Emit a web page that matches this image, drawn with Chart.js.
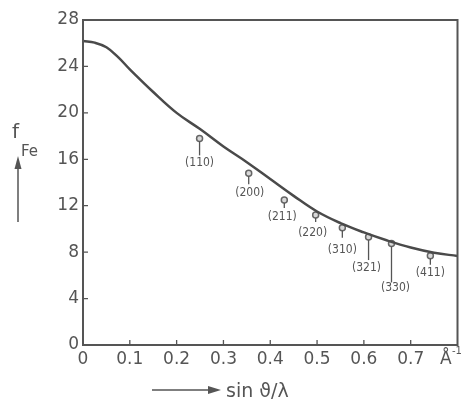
<!DOCTYPE html>
<html>
<head>
<meta charset="utf-8">
<script src="https://cdn.jsdelivr.net/npm/chart.js@4"></script>
<style>
  html, body { margin: 0; padding: 0; background: #fff; }
  #wrap { width: 463px; height: 405px; }
</style>
</head>
<body>
<div id="wrap"><canvas id="fFeChart" width="463" height="405"></canvas></div>
<script>
// curve f_Fe(sin theta / lambda)
var sinThetaOverLambda = [0, 0.025, 0.05, 0.075, 0.1, 0.15, 0.2, 0.25, 0.3, 0.35, 0.4, 0.45, 0.5, 0.55, 0.6, 0.65, 0.7, 0.75, 0.8];
var fFe = [26.2, 26.05, 25.65, 24.8, 23.75, 21.8, 20.0, 18.6, 17.1, 15.75, 14.3, 12.85, 11.5, 10.5, 9.7, 9.0, 8.4, 7.95, 7.67];

// measured reflections
var reflections = ["(110)", "(200)", "(211)", "(220)", "(310)", "(321)", "(330)", "(411)"];
var reflX = [0.249, 0.354, 0.43, 0.497, 0.554, 0.61, 0.659, 0.742];
var reflF = [17.8, 14.8, 12.5, 11.2, 10.1, 9.3, 8.75, 7.7];

var yTicks = [0, 4, 8, 12, 16, 20, 24, 28];
var xTicks = [0, 0.1, 0.2, 0.3, 0.4, 0.5, 0.6, 0.7];

// label placement (px, relative to the marker)
var stemLen = [14, 8, 5, 4, 7, 20, 36, 6];
var labelDx = [0, 1, -2, -3, 0, -2, 4, 0];
var labelDy = [24, 20, 17, 18, 22, 31, 44, 17];

var ink = "#555";

var extras = {
  id: "extras",
  afterDatasetsDraw: function(chart) {
    var ctx = chart.ctx, a = chart.chartArea;
    var xs = chart.scales.x, ys = chart.scales.y;
    ctx.save();
    // frame
    ctx.strokeStyle = ink;
    ctx.lineWidth = 2;
    ctx.strokeRect(a.left, a.top, a.right - a.left, a.bottom - a.top);
    // inner ticks
    ctx.lineWidth = 1.3;
    ctx.beginPath();
    yTicks.forEach(function(v) {
      if (v <= 0 || v >= 28) return;
      var y = ys.getPixelForValue(v);
      ctx.moveTo(a.left, y); ctx.lineTo(a.left + 5, y);
    });
    xTicks.forEach(function(v) {
      if (v <= 0) return;
      var x = xs.getPixelForValue(v);
      ctx.moveTo(x, a.bottom); ctx.lineTo(x, a.bottom - 5);
    });
    ctx.stroke();

    // stems and hkl labels
    ctx.fillStyle = ink;
    ctx.font = "12px 'DejaVu Sans Condensed'";
    ctx.textAlign = "center";
    ctx.textBaseline = "middle";
    reflections.forEach(function(lab, i) {
      var px = xs.getPixelForValue(reflX[i]);
      var py = ys.getPixelForValue(reflF[i]);
      ctx.beginPath();
      ctx.moveTo(px, py + 3);
      ctx.lineTo(px, py + 3 + stemLen[i]);
      ctx.stroke();
      ctx.fillText(lab, px + labelDx[i], py + labelDy[i]);
    });

    // unit at the end of the x axis
    ctx.textAlign = "left";
    ctx.textBaseline = "alphabetic";
    ctx.font = "17px 'DejaVu Sans'";
    ctx.fillText("Å", 440, 364);
    ctx.font = "10px 'DejaVu Sans'";
    ctx.fillText("-1", 452, 354);

    // x axis title with arrow
    ctx.lineWidth = 1.5;
    ctx.beginPath();
    ctx.moveTo(152, 390); ctx.lineTo(210, 390);
    ctx.stroke();
    ctx.beginPath();
    ctx.moveTo(221, 390); ctx.lineTo(208, 386); ctx.lineTo(208, 394);
    ctx.closePath(); ctx.fill();
    ctx.font = "19px 'DejaVu Sans'";
    ctx.fillText("sin ϑ/λ", 226, 397);

    // y axis title with arrow
    ctx.font = "20px 'DejaVu Sans'";
    ctx.fillText("f", 12, 138);
    ctx.font = "15px 'DejaVu Sans'";
    ctx.fillText("Fe", 21, 156);
    ctx.beginPath();
    ctx.moveTo(18, 222); ctx.lineTo(18, 166);
    ctx.stroke();
    ctx.beginPath();
    ctx.moveTo(18, 156); ctx.lineTo(14.5, 169); ctx.lineTo(21.5, 169);
    ctx.closePath(); ctx.fill();
    ctx.restore();
  }
};

var curve = sinThetaOverLambda.map(function(x, i) { return { x: x, y: fFe[i] }; });
var points = reflX.map(function(x, i) { return { x: x, y: reflF[i] }; });

new Chart(document.getElementById("fFeChart").getContext("2d"), {
  type: "scatter",
  data: {
    datasets: [
      {
        label: "f_Fe",
        data: curve,
        showLine: true,
        borderColor: "#4a4a4a",
        borderWidth: 2.5,
        pointRadius: 0,
        tension: 0.4
      },
      {
        label: "reflections",
        data: points,
        showLine: false,
        pointRadius: 3,
        pointBorderWidth: 1.5,
        pointBorderColor: "#666",
        pointBackgroundColor: "#d8d8d8"
      }
    ]
  },
  options: {
    responsive: false,
    animation: false,
    layout: { padding: { left: 0, top: 20, right: 3, bottom: 0 } },
    plugins: { legend: { display: false }, tooltip: { enabled: false } },
    scales: {
      x: {
        type: "linear",
        min: 0,
        max: 0.8,
        afterFit: function(s) { s.height = 60; },
        afterBuildTicks: function(s) { s.ticks = xTicks.map(function(v) { return { value: v }; }); },
        grid: { display: false, drawTicks: false },
        border: { display: false },
        ticks: {
          padding: 4,
          color: ink,
          font: { family: "DejaVu Sans", size: 17 },
          maxRotation: 0,
          callback: function(v) { return v === 0 ? "0" : v.toFixed(1); }
        }
      },
      y: {
        min: 0,
        max: 28,
        afterFit: function(s) { s.width = 83; },
        afterBuildTicks: function(s) { s.ticks = yTicks.map(function(v) { return { value: v }; }); },
        grid: { display: false, drawTicks: false },
        border: { display: false },
        ticks: {
          padding: 4,
          color: ink,
          font: { family: "DejaVu Sans", size: 17 }
        }
      }
    }
  },
  plugins: [extras]
});
</script>
</body>
</html>
